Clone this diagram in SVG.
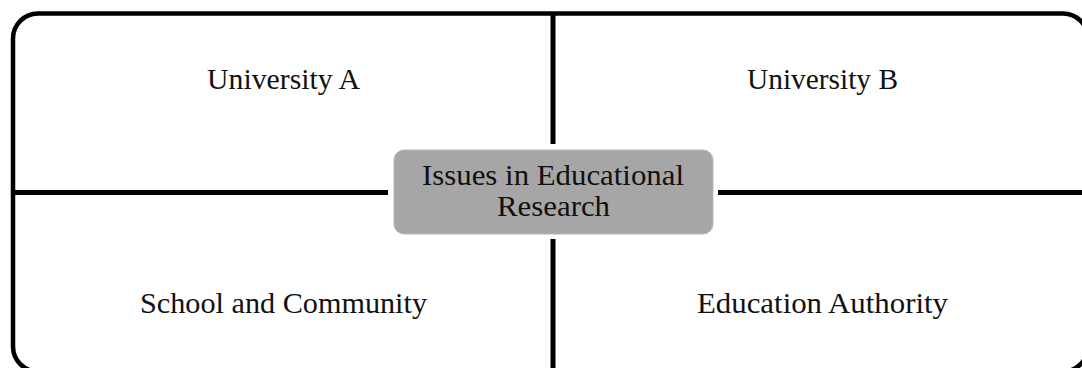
<svg xmlns="http://www.w3.org/2000/svg" width="1082" height="368" viewBox="0 0 1082 368">
  <style>
    .frame { fill: none; stroke: #000; stroke-width: 4.5; }
    .line { stroke: #000; stroke-width: 5; fill: none; }
    .lbl { font-family: "Liberation Serif", "DejaVu Serif", serif; font-size: 30px; fill: #111; text-anchor: middle; }
    .hub { fill: #a6a6a6; stroke: #b8b8b8; stroke-width: 1; }
  </style>
  <rect width="1082" height="368" fill="#fff"/>
  <g id="frame">
    <rect class="frame" x="13" y="13.5" width="1075" height="358" rx="25" ry="25"/>
  </g>
  <g id="connectors">
    <line class="line" x1="553" y1="13" x2="553" y2="144"/>
    <line class="line" x1="553" y1="239" x2="553" y2="368"/>
    <line class="line" x1="13" y1="192.5" x2="388" y2="192.5"/>
    <line class="line" x1="718" y1="192.5" x2="1082" y2="192.5"/>
  </g>
  <g id="university-a">
    <text class="lbl" x="283.5" y="89" textLength="153" lengthAdjust="spacingAndGlyphs">University A</text>
  </g>
  <g id="university-b">
    <text class="lbl" x="822.5" y="89" textLength="151" lengthAdjust="spacingAndGlyphs">University B</text>
  </g>
  <g id="school-community">
    <text class="lbl" x="283.5" y="313" textLength="287" lengthAdjust="spacingAndGlyphs">School and Community</text>
  </g>
  <g id="education-authority">
    <text class="lbl" x="822.5" y="313" textLength="251" lengthAdjust="spacingAndGlyphs">Education Authority</text>
  </g>
  <g id="hub">
    <rect class="hub" x="394" y="150" width="319" height="84" rx="10" ry="10"/>
    <text class="lbl" x="553" y="185" textLength="262" lengthAdjust="spacingAndGlyphs">Issues in Educational</text>
    <text class="lbl" x="553.5" y="216" textLength="113" lengthAdjust="spacingAndGlyphs">Research</text>
  </g>
</svg>
